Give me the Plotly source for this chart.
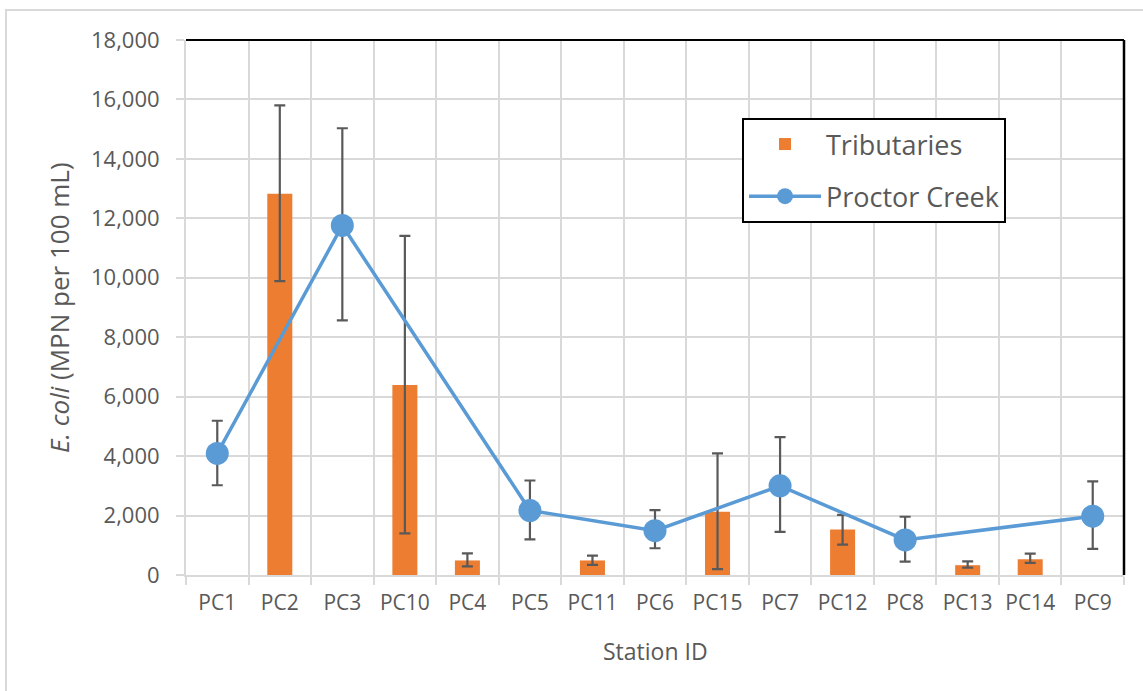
import plotly.graph_objects as go

stations = ["PC1", "PC2", "PC3", "PC10", "PC4", "PC5", "PC11", "PC6",
            "PC15", "PC7", "PC12", "PC8", "PC13", "PC14", "PC9"]

trib_vals = [None, 12830, None, 6390, 490, None, 490, None,
             2130, None, 1530, None, 330, 530, None]
trib_hi = [None, 15800, None, 11410, 730, None, 650, None,
           4090, None, 2020, None, 460, 720, None]
trib_lo = [None, 9890, None, 1400, 290, None, 340, None,
           200, None, 1020, None, 250, 410, None]

creek_vals = [4090, None, 11760, None, None, 2170, None, 1490,
              None, 3000, None, 1180, None, None, 1980]
creek_hi = [5190, None, 15030, None, None, 3180, None, 2180,
            None, 4640, None, 1960, None, None, 3150]
creek_lo = [3020, None, 8570, None, None, 1200, None, 900,
            None, 1450, None, 450, None, None, 880]


def plus(v, h):
    return [None if a is None else b - a for a, b in zip(v, h)]


def minus(v, l):
    return [None if a is None else a - b for a, b in zip(v, l)]


W, H = 1143, 691
L, R, T, B = 186, 1124, 40, 575
pw, ph = R - L, B - T


def px(x):
    return (x - L) / pw


def py(y):
    return (B - y) / ph


FONT = "Open Sans"
TXT = "#595959"
ERR = "#595959"

fig = go.Figure()
fig.add_trace(go.Bar(
    x=stations, y=trib_vals, name="Tributaries", legendgroup="a",
    marker=dict(color="#ED7D31", line=dict(width=0)),
    width=0.4,
    error_y=dict(type="data", symmetric=False,
                 array=plus(trib_vals, trib_hi),
                 arrayminus=minus(trib_vals, trib_lo),
                 color=ERR, thickness=2.2, width=5.5),
))
fig.add_trace(go.Scatter(
    x=stations, y=creek_vals, name="Proctor Creek", legendgroup="b",
    mode="lines+markers", connectgaps=True,
    line=dict(color="#5B9BD5", width=3.5),
    marker=dict(color="#5B9BD5", size=23),
    error_y=dict(type="data", symmetric=False,
                 array=plus(creek_vals, creek_hi),
                 arrayminus=minus(creek_vals, creek_lo),
                 color=ERR, thickness=2.2, width=5.5),
))

shapes = [
    # outer chart border
    dict(type="rect", xref="paper", yref="paper",
         x0=px(6), x1=px(1160), y0=py(710), y1=py(10),
         line=dict(color="#D9D9D9", width=2), fillcolor="rgba(0,0,0,0)", layer="below"),
    # top and right plot borders
    dict(type="line", xref="paper", yref="paper", x0=0, x1=1, y0=1, y1=1,
         line=dict(color="black", width=2)),
    dict(type="line", xref="paper", yref="paper", x0=1, x1=1, y0=0, y1=1,
         line=dict(color="black", width=2.5)),
]

fig.update_layout(
    width=W, height=H,
    margin=dict(l=L, r=W - R, t=T, b=H - B),
    paper_bgcolor="white", plot_bgcolor="white",
    font=dict(family=FONT, color=TXT),
    showlegend=True,
    legend=dict(
        x=px(742), y=py(118), xanchor="left", yanchor="top",
        bgcolor="white", bordercolor="black", borderwidth=2,
        font=dict(size=27, color=TXT, family=FONT),
        tracegroupgap=14, itemwidth=72,
        entrywidth=270, entrywidthmode="pixels",
    ),
    shapes=shapes,
    annotations=[
        dict(text="<i>E. coli</i> (MPN per 100 mL)", textangle=-90,
             xref="paper", yref="paper", x=px(59), y=py(308),
             xanchor="center", yanchor="middle", showarrow=False,
             font=dict(size=26, color=TXT, family=FONT)),
        dict(text="Station ID",
             xref="paper", yref="paper", x=px(655), y=py(651),
             xanchor="center", yanchor="middle", showarrow=False,
             font=dict(size=23, color=TXT, family=FONT)),
    ],
    xaxis=dict(
        type="category", tickson="boundaries", range=[-0.5, 14.5],
        showgrid=True, gridcolor="#D9D9D9", gridwidth=2,
        showline=True, linecolor="#D9D9D9", linewidth=2,
        ticks="outside", ticklen=8, tickcolor="#D9D9D9", tickwidth=2,
        tickfont=dict(size=21, color=TXT, family=FONT),
        ticklabelstandoff=8,
    ),
    yaxis=dict(
        range=[0, 18000], dtick=2000, tickformat=",",
        showgrid=True, gridcolor="#D9D9D9", gridwidth=2,
        zeroline=False,
        showline=True, linecolor="#D9D9D9", linewidth=2,
        ticks="outside", ticklen=8, tickcolor="#D9D9D9", tickwidth=2,
        tickfont=dict(size=22, color=TXT, family=FONT),
        ticklabelstandoff=12,
    ),
)

fig.write_html("out.html")
